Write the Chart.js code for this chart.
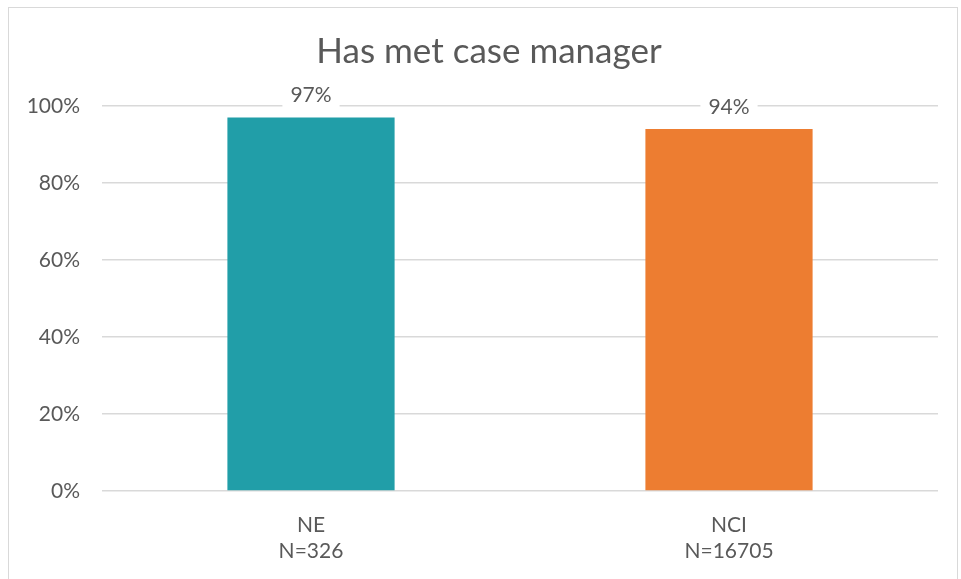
<!DOCTYPE html>
<html>
<head>
<meta charset="utf-8">
<script src="https://cdn.jsdelivr.net/npm/chart.js@4/dist/chart.umd.min.js"></script>
<style>
    body { margin: 0; background: #fff; }
    #wrap { position: relative; width: 961px; height: 579px; overflow: hidden; }
    #frame { position: absolute; left: 8px; top: 7px; width: 948px; height: 600px; border: 1px solid #d9d9d9; }
    #chart { position: absolute; left: 0; top: 0; }
</style>
</head>
<body>
<div id="wrap">
    <div id="frame"></div>
    <canvas id="chart" width="961" height="579"></canvas>
</div>
<script>
const groups = [['NE', 'N=326'], ['NCI', 'N=16705']];
const percentMet = [97, 94];
const barColors = ['#219EA8', '#ED7D31'];
const yTicks = [0, 20, 40, 60, 80, 100];

const textColor = '#595959';
const fontName = 'Lato';

// value labels above the bars, on a white box so the gridline breaks around them
const valueLabels = {
    id: 'valueLabels',
    afterDatasetsDraw(chart) {
        let ctx = chart.ctx;
        let meta = chart.getDatasetMeta(0);
        ctx.save();
        ctx.font = '21px ' + fontName;
        ctx.textAlign = 'center';
        ctx.textBaseline = 'middle';
        meta.data.forEach((bar, i) => {
            let text = percentMet[i] + '%';
            let w = ctx.measureText(text).width + 16;
            let y = bar.y - 22;
            ctx.fillStyle = '#ffffff';
            ctx.fillRect(bar.x - w / 2, y - 13, w, 26);
            ctx.fillStyle = textColor;
            ctx.fillText(text, bar.x, y);
        });
        ctx.restore();
    }
};

let ctx = document.getElementById('chart').getContext('2d');
new Chart(ctx, {
    type: 'bar',
    data: {
        labels: groups,
        datasets: [{
            data: percentMet,
            backgroundColor: barColors,
            barPercentage: 0.4,
            categoryPercentage: 1.0
        }]
    },
    options: {
        responsive: false,
        animation: false,
        layout: { padding: { left: 17, right: 0, top: 0, bottom: 0 } },
        plugins: {
            legend: { display: false },
            tooltip: { enabled: false },
            title: {
                display: true,
                text: 'Has met case manager',
                color: textColor,
                font: { family: fontName, size: 35, weight: 'normal', lineHeight: 1.2 },
                padding: { top: 31, bottom: 33 }
            }
        },
        scales: {
            x: {
                grid: { display: false },
                border: { display: false },
                ticks: {
                    color: textColor,
                    font: { family: fontName, size: 21, lineHeight: 1.25 },
                    padding: 13
                },
                afterFit: scale => { scale.height = 88; }
            },
            y: {
                min: 0,
                max: 100,
                afterBuildTicks: scale => { scale.ticks = yTicks.map(v => ({ value: v })); },
                grid: { color: '#d9d9d9', lineWidth: 1.5, drawTicks: false },
                border: { display: false },
                ticks: {
                    color: textColor,
                    font: { family: fontName, size: 21 },
                    padding: 22,
                    callback: v => v + '%'
                },
                afterFit: scale => { scale.width = 85; }
            },
            // empty right-hand axis, only keeps the plot clear of the right frame
            yRight: {
                position: 'right',
                min: 0,
                max: 100,
                grid: { display: false },
                border: { display: false },
                ticks: { display: false },
                afterFit: scale => { scale.width = 23; }
            }
        }
    },
    plugins: [valueLabels]
});
</script>
</body>
</html>
